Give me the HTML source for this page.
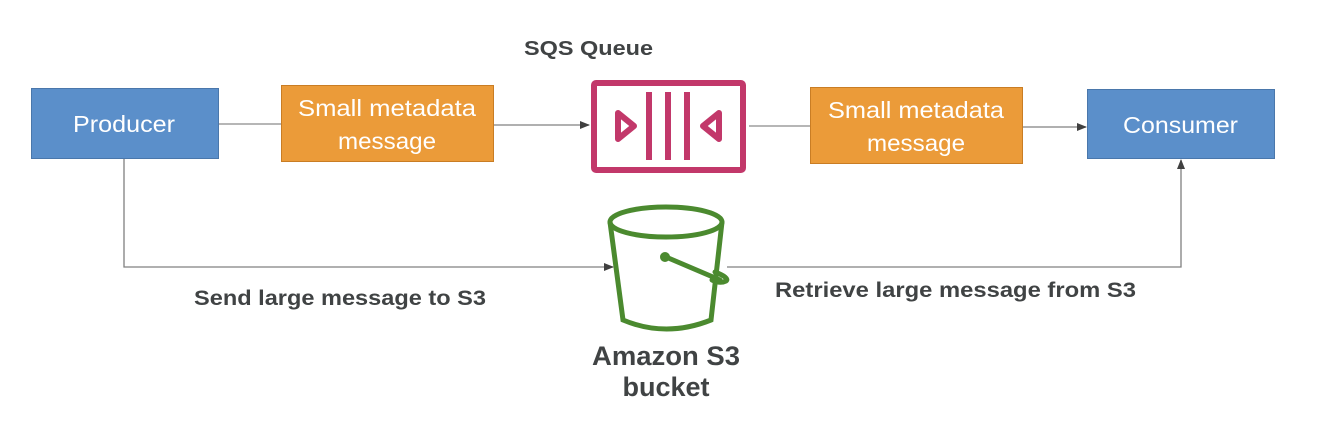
<!DOCTYPE html>
<html><head><meta charset="utf-8"><style>
html,body{margin:0;padding:0;background:#fff;width:1334px;height:427px;overflow:hidden}
text{font-family:"Liberation Sans",sans-serif}
</style></head><body>
<svg width="1334" height="427" viewBox="0 0 1334 427" xmlns="http://www.w3.org/2000/svg">
<defs>
<marker id="a" markerWidth="10" markerHeight="10" refX="9" refY="5" orient="auto" markerUnits="userSpaceOnUse">
<path d="M0,1 L10,5 L0,9 z" fill="#404040"/></marker>
</defs>
<g stroke="#8a8a8a" stroke-width="1.3" fill="none">
<line x1="218" y1="124" x2="281" y2="124"/>
<line x1="493" y1="125" x2="589" y2="125" marker-end="url(#a)" stroke="#808080"/>
<line x1="749" y1="126" x2="810" y2="126"/>
<line x1="1022" y1="127" x2="1086" y2="127" marker-end="url(#a)" stroke="#808080"/>
<polyline points="124,158 124,267 613,267" marker-end="url(#a)" stroke="#808080"/>
<polyline points="727,267 1181,267 1181,160" marker-end="url(#a)" stroke="#808080"/>
</g>
<rect x="31.5" y="88.5" width="187" height="70" fill="#5b8fca" stroke="#4a77ab"/>
<rect x="1087.5" y="89.5" width="187" height="69" fill="#5b8fca" stroke="#4a77ab"/>
<rect x="281.5" y="85.5" width="212" height="76" fill="#eb9b39" stroke="#c97d24"/>
<rect x="810.5" y="87.5" width="212" height="76" fill="#eb9b39" stroke="#c97d24"/>
<g fill="#fff" font-size="23">
<text x="73" y="132" textLength="102" lengthAdjust="spacingAndGlyphs">Producer</text>
<text x="1123" y="133" textLength="115" lengthAdjust="spacingAndGlyphs">Consumer</text>
<text x="298" y="116" textLength="178" lengthAdjust="spacingAndGlyphs">Small metadata</text>
<text x="338" y="149" textLength="98" lengthAdjust="spacingAndGlyphs">message</text>
<text x="828" y="118" textLength="176" lengthAdjust="spacingAndGlyphs">Small metadata</text>
<text x="867" y="151" textLength="98" lengthAdjust="spacingAndGlyphs">message</text>
</g>
<g stroke="#c2386a" stroke-width="6" fill="none" stroke-linejoin="round">
<rect x="594" y="83" width="149" height="87" rx="2"/>
<line x1="649" y1="92" x2="649" y2="160"/>
<line x1="668" y1="92" x2="668" y2="160"/>
<line x1="687" y1="92" x2="687" y2="160"/>
<path d="M618,113 L634,126 L618,139 z"/>
<path d="M719,113 L703,126 L719,139 z"/>
</g>
<g stroke="#4b8a2f" stroke-width="5" fill="none" stroke-linecap="round">
<ellipse cx="666" cy="222" rx="56" ry="15"/>
<path d="M610,222 L623,320 Q666,338 711,320 L722,222"/>
<path d="M666,257 L720,280"/>
<path d="M715,272 Q730,278 726,281 Q720,284 712,280"/>
</g>
<circle cx="665" cy="257" r="5" fill="#4b8a2f"/>
<g fill="#404344" font-weight="bold">
<text x="524" y="55" font-size="20" textLength="129" lengthAdjust="spacingAndGlyphs">SQS Queue</text>
<text x="194" y="305" font-size="21" textLength="292" lengthAdjust="spacingAndGlyphs">Send large message to S3</text>
<text x="775" y="297" font-size="21" textLength="361" lengthAdjust="spacingAndGlyphs">Retrieve large message from S3</text>
<text x="592" y="365" font-size="27" textLength="148" lengthAdjust="spacingAndGlyphs">Amazon S3</text>
<text x="666" y="396" font-size="27" text-anchor="middle">bucket</text>
</g>
</svg>
</body></html>
